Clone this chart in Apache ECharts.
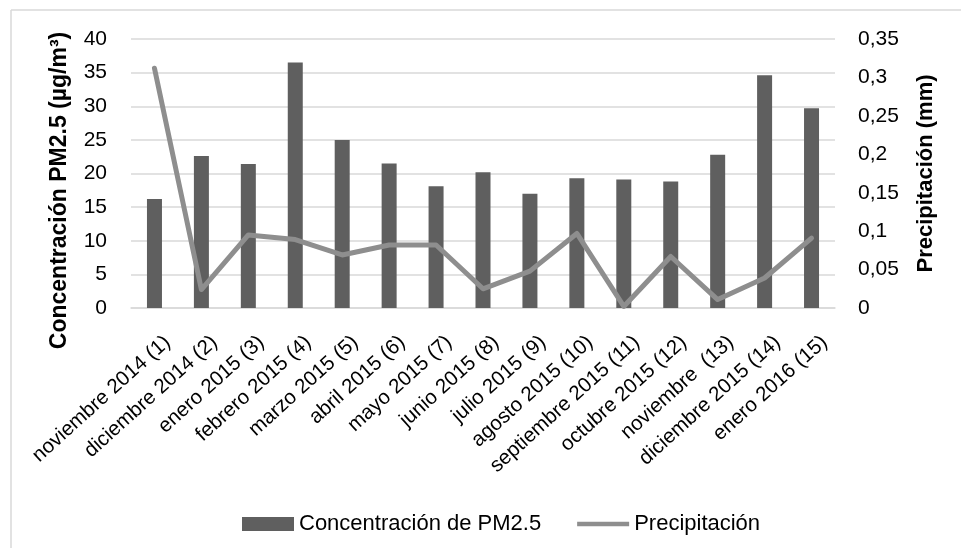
<!DOCTYPE html>
<html>
<head>
<meta charset="utf-8">
<script src="https://cdn.jsdelivr.net/npm/echarts@6/dist/echarts.min.js"></script>
<style>
  html, body { margin: 0; padding: 0; background: #ffffff; }
  #chart { width: 961px; height: 548px; }
</style>
</head>
<body>
<div id="chart"></div>
<script>
// Monthly sampling periods
const categories = [
  'noviembre 2014 (1)', 'diciembre 2014 (2)', 'enero 2015 (3)', 'febrero 2015 (4)',
  'marzo 2015 (5)', 'abril 2015 (6)', 'mayo 2015 (7)', 'junio 2015 (8)',
  'julio 2015 (9)', 'agosto 2015 (10)', 'septiembre 2015 (11)', 'octubre 2015 (12)',
  'noviembre  (13)', 'diciembre 2015 (14)', 'enero 2016 (15)'
];

// PM2.5 concentration (µg/m³)
const pm25 = [16.2, 22.6, 21.4, 36.5, 25.0, 21.5, 18.1, 20.2, 17.0, 19.3, 19.1, 18.8, 22.8, 34.6, 29.7];

// Precipitation (mm)
const precipitation = [0.312, 0.024, 0.095, 0.089, 0.069, 0.082, 0.082, 0.025, 0.048, 0.097, 0.002, 0.067, 0.011, 0.039, 0.091];

// Axis scales
const leftTicks = { min: 0, max: 40, interval: 5 };
const rightTicks = { min: 0, max: 0.35, interval: 0.05 };

const FONT = '"Liberation Sans", Arial, sans-serif';
const BAR_COLOR = '#5f5f5f';
const LINE_COLOR = '#8e8e8e';
const GRID_COLOR = '#d9d9d9';

const chart = echarts.init(document.getElementById('chart'), null, { renderer: 'canvas' });

chart.setOption({
  backgroundColor: '#ffffff',
  animation: false,
  textStyle: { fontFamily: FONT },
  graphic: [
    { type: 'line', shape: { x1: 11, y1: 10, x2: 961, y2: 10 }, style: { stroke: GRID_COLOR, lineWidth: 1.5 } },
    { type: 'line', shape: { x1: 11, y1: 10, x2: 11, y2: 548 }, style: { stroke: GRID_COLOR, lineWidth: 1.5 } }
  ],
  grid: { left: 131, right: 126, top: 39, bottom: 240, containLabel: false },
  legend: {
    left: 237,
    top: 508,
    itemWidth: 52,
    itemHeight: 14,
    itemGap: 36,
    textStyle: { fontFamily: FONT, fontSize: 22, color: '#000000' },
    data: [
      { name: 'Concentración de PM2.5', icon: 'rect' },
      { name: 'Precipitación', icon: 'path://M0,0H56V5H0Z' }
    ]
  },
  xAxis: {
    type: 'category',
    data: categories,
    boundaryGap: true,
    axisLine: { show: true, lineStyle: { color: GRID_COLOR, width: 1.5 } },
    axisTick: { show: false },
    axisLabel: {
      interval: 0,
      rotate: 42,
      margin: 17,
      verticalAlign: 'top',
      padding: [9, 0, 0, 0],
      fontFamily: FONT,
      fontSize: 20.5,
      color: '#000000'
    }
  },
  yAxis: [
    {
      type: 'value',
      min: leftTicks.min,
      max: leftTicks.max,
      interval: leftTicks.interval,
      name: 'Concentración PM2.5 (µg/m³)',
      nameLocation: 'middle',
      nameRotate: 90,
      nameGap: 60,
      nameTextStyle: {
        fontFamily: FONT, fontSize: 23, fontWeight: 'bold', color: '#000000',
        padding: [0, 34, 0, 0]
      },
      axisLine: { show: false },
      axisTick: { show: false },
      splitLine: { show: true, lineStyle: { color: GRID_COLOR, width: 1.5 } },
      axisLabel: { margin: 24, fontFamily: FONT, fontSize: 21, color: '#000000' }
    },
    {
      type: 'value',
      position: 'right',
      min: rightTicks.min,
      max: rightTicks.max,
      interval: rightTicks.interval,
      name: 'Precipitación (mm)',
      nameLocation: 'middle',
      nameRotate: 90,
      nameGap: 80,
      nameTextStyle: { fontFamily: FONT, fontSize: 22, fontWeight: 'bold', color: '#000000' },
      axisLine: { show: false },
      axisTick: { show: false },
      splitLine: { show: false },
      axisLabel: {
        margin: 23,
        fontFamily: FONT,
        fontSize: 21,
        color: '#000000',
        formatter: function (v) {
          return String(Math.round(v * 100) / 100).replace('.', ',');
        }
      }
    }
  ],
  series: [
    {
      name: 'Concentración de PM2.5',
      type: 'bar',
      yAxisIndex: 0,
      data: pm25,
      barWidth: 15,
      itemStyle: { color: BAR_COLOR }
    },
    {
      name: 'Precipitación',
      type: 'line',
      yAxisIndex: 1,
      data: precipitation,
      symbol: 'none',
      smooth: false,
      lineStyle: { color: LINE_COLOR, width: 5, cap: 'round', join: 'round' },
      itemStyle: { color: LINE_COLOR }
    }
  ]
});
</script>
</body>
</html>
